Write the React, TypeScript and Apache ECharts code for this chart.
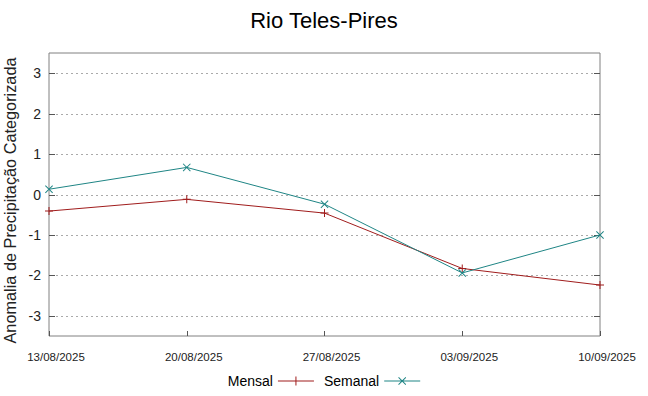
import React, { useEffect, useRef } from "react";
import * as echarts from "echarts";

const categories = ["13/08/2025", "20/08/2025", "27/08/2025", "03/09/2025", "10/09/2025"];
const mensal = [-0.41, -0.12, -0.46, -1.83, -2.24];
const semanal = [0.13, 0.67, -0.24, -1.94, -1.0];
const yTicks = [-3, -2, -1, 0, 1, 2, 3];

const RED = "#a01c1c";
const TEAL = "#1f8585";
const FONT = "'Liberation Sans', Arial, sans-serif";

const plusSym = "path://M3.5,0H4.5V8H3.5Z M0,3.5H8V4.5H0Z";
const crossSym = "path://M0.7,0L8,7.3L7.3,8L0,0.7Z M7.3,0L8,0.7L0.7,8L0,7.3Z";
const plusIcon = "path://M0,4.5H36V5.5H0Z M17.5,0.5H18.5V9.5H17.5Z";
const crossIcon = "path://M0,4.5H36V5.5H0Z M14.7,1L22,8.3L21.3,9L14,1.7Z M21.3,1L22,1.7L14.7,9L14,8.3Z";

const LEFT = 49;
const RIGHT_X = 600;

export default function App() {
  const ref = useRef<HTMLDivElement>(null);
  useEffect(() => {
    if (!ref.current) return;
    const chart = echarts.init(ref.current, undefined, { renderer: "svg" });
    chart.setOption({
      animation: false,
      backgroundColor: "#ffffff",
      textStyle: { fontFamily: FONT },
      title: {
        text: "Rio Teles-Pires",
        left: "center",
        top: 4,
        textStyle: { fontFamily: FONT, fontSize: 22, fontWeight: "normal", color: "#000" },
      },
      grid: {
        left: LEFT,
        right: 648 - RIGHT_X,
        top: 53,
        bottom: 60,
        show: true,
        borderColor: "#808080",
        borderWidth: 1,
        containLabel: false,
        outerBoundsMode: "none",
      },
      legend: {
        bottom: 3,
        left: "center",
        align: "right",
        itemWidth: 36,
        itemHeight: 10,
        itemGap: 10,
        textStyle: { fontFamily: FONT, fontSize: 14, color: "#000" },
        data: [
          { name: "Mensal", icon: plusIcon, itemStyle: { color: RED } },
          { name: "Semanal", icon: crossIcon, itemStyle: { color: TEAL } },
        ],
      },
      xAxis: {
        type: "category",
        data: categories,
        boundaryGap: false,
        axisLine: { show: false, onZero: false },
        axisTick: { show: true, inside: true, length: 5, lineStyle: { color: "#555" } },
        axisLabel: {
          fontFamily: FONT,
          fontSize: 11.5,
          color: "#222",
          margin: 15,
          padding: [0, 0, 0, 14],
          showMinLabel: true,
          showMaxLabel: true,
        },
        splitLine: { show: false },
      },
      yAxis: {
        type: "value",
        min: -3.5,
        max: 3.5,
        interval: 0.5,
        name: "Anomalia de Precipitação Categorizada",
        nameLocation: "middle",
        nameGap: 19,
        nameTextStyle: { fontFamily: FONT, fontSize: 16.3, color: "#222", padding: [0, 12, 0, 0] },
        axisLine: { show: false },
        axisTick: { show: false },
        axisLabel: {
          fontFamily: FONT,
          fontSize: 14,
          color: "#222",
          margin: 8,
          formatter: (v: number) => (yTicks.includes(v) ? String(v) : ""),
        },
        splitLine: { show: false },
      },
      series: [
        {
          name: "Mensal",
          type: "line",
          data: mensal,
          symbol: plusSym,
          symbolSize: 8,
          showSymbol: true,
          lineStyle: { color: RED, width: 1 },
          itemStyle: { color: RED },
          z: 3,
        },
        {
          name: "Semanal",
          type: "line",
          data: semanal,
          symbol: crossSym,
          symbolSize: 8,
          showSymbol: true,
          lineStyle: { color: TEAL, width: 1 },
          itemStyle: { color: TEAL },
          z: 4,
        },
      ],
    });
    const gs: any[] = [];
    yTicks.forEach((v) => {
      const p = Math.round(chart.convertToPixel({ yAxisIndex: 0 }, v) as number) + 0.5;
      gs.push({ type: "line", z: 1, shape: { x1: LEFT + 7, y1: p, x2: RIGHT_X - 7, y2: p }, style: { stroke: "#aaa", lineWidth: 1, lineDash: [2, 3] } });
      gs.push({ type: "line", z: 1, shape: { x1: LEFT, y1: p, x2: LEFT + 6, y2: p }, style: { stroke: "#555", lineWidth: 1 } });
      gs.push({ type: "line", z: 1, shape: { x1: RIGHT_X - 6, y1: p, x2: RIGHT_X, y2: p }, style: { stroke: "#555", lineWidth: 1 } });
    });
    chart.setOption({ graphic: gs });
    return () => chart.dispose();
  }, []);
  return <div ref={ref} style={{ width: 648, height: 396, position: "absolute", left: 0, top: 0 }} />;
}
